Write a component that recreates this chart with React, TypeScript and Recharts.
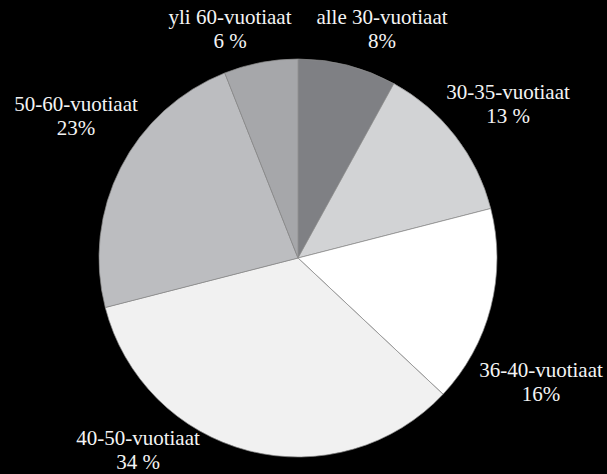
import React from 'react';
import { PieChart, Pie, Cell } from 'recharts';

const categories = [
  'alle 30-vuotiaat',
  '30-35-vuotiaat',
  '36-40-vuotiaat',
  '40-50-vuotiaat',
  '50-60-vuotiaat',
  'yli 60-vuotiaat',
];
const shares = [8, 13, 16, 34, 23, 6];
const shareLabels = ['8%', '13 %', '16%', '34 %', '23%', '6 %'];

const colors = ['#7f8084', '#d2d3d5', '#ffffff', '#f1f1f1', '#bcbdc0', '#a6a7aa'];

// label anchor (first line baseline) relative to pie centre
const labelOffsets = [
  [84, -234],
  [210, -159],
  [243, 119],
  [-160, 187],
  [-222, -147],
  [-68, -234],
];

const data = categories.map((name, i) => ({ name, value: shares[i], pct: shareLabels[i] }));

const serif = "'Liberation Serif', 'Times New Roman', Times, serif";

const renderLabel = (props: any) => {
  const { cx, cy, index } = props;
  const [dx, dy] = labelOffsets[index];
  const x = cx + dx;
  const y = cy + dy;
  return (
    <text
      x={x}
      y={y}
      textAnchor="middle"
      fill="#f4f4f4"
      style={{ fontFamily: serif, fontSize: 21 }}
    >
      <tspan x={x} y={y}>{data[index].name}</tspan>
      <tspan x={x} y={y + 24}>{data[index].pct}</tspan>
    </text>
  );
};

export default function App() {
  return (
    <div style={{ position: 'absolute', left: 0, top: 0, width: 607, height: 474, background: '#000', fontFamily: serif }}>
      <PieChart width={607} height={474} margin={{ top: 0, right: 0, bottom: 0, left: 0 }}>
        <Pie
          data={data}
          dataKey="value"
          nameKey="name"
          cx={298}
          cy={258}
          outerRadius={199}
          startAngle={90}
          endAngle={-270}
          stroke="#8c8c8c"
          strokeWidth={0.7}
          label={renderLabel}
          labelLine={false}
          isAnimationActive={false}
        >
          {data.map((d, i) => (
            <Cell key={d.name} fill={colors[i]} />
          ))}
        </Pie>
      </PieChart>
    </div>
  );
}
